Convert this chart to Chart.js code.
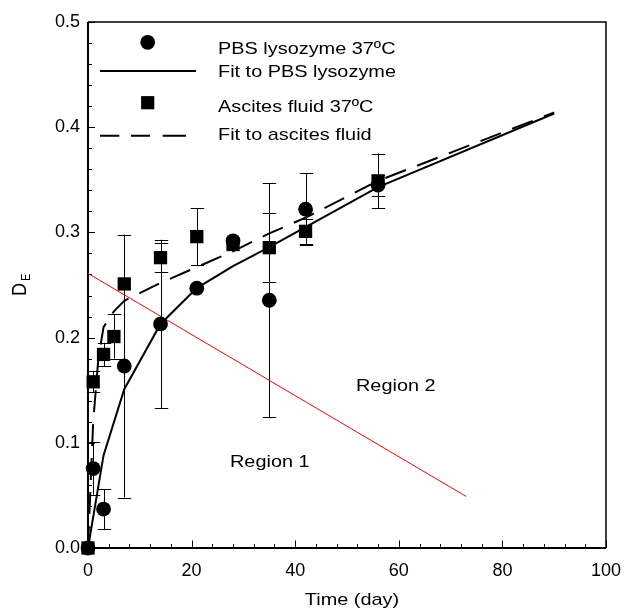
<!DOCTYPE html>
<html><head><meta charset="utf-8">
<script src="https://cdn.jsdelivr.net/npm/chart.js@4.4.0/dist/chart.umd.min.js"></script>
<style>html,body{margin:0;padding:0;background:#fff;}</style>
</head><body>
<canvas id="c" width="633" height="608" style="width:633px;height:608px;display:block"></canvas>
<script>
// ---- data ----
const pbsDays   = [0, 1, 3, 7, 14, 21, 28, 35, 42, 56];
const pbsValues = [0, 0.0755, 0.037, 0.173, 0.213, 0.247, 0.292, 0.2355, 0.322, 0.345];
const pbsErrors = [0, 0.025, 0.019, 0.125, 0.080, 0, 0, 0.111, 0.034, 0.010];

const ascDays   = [0, 1, 3, 5, 7, 14, 21, 28, 35, 42, 56];
const ascValues = [0, 0.158, 0.184, 0.201, 0.251, 0.276, 0.296, 0.2885, 0.2855, 0.301, 0.349];
const ascErrors = [0, 0.010, 0.011, 0.021, 0, 0.014, 0.027, 0, 0.033, 0.012, 0.026];

const fitPbsDays   = [0, 3, 7, 14, 21, 28, 35, 42, 56, 90];
const fitPbsValues = [0, 0.088, 0.151, 0.213, 0.247, 0.268, 0.286, 0.305, 0.343, 0.413];

const fitAscDays   = [0, 0.5, 1, 2, 3, 5, 7, 14, 21, 28, 35, 42, 56, 90];
const fitAscValues = [0, 0.06, 0.12, 0.18, 0.21, 0.225, 0.235, 0.252, 0.267, 0.282, 0.299, 0.314, 0.349, 0.414];

const boundaryDays   = [0, 73];
const boundaryValues = [0.261, 0.049];

const xTicks = [0, 20, 40, 60, 80, 100];
const yTicks = [0.0, 0.1, 0.2, 0.3, 0.4, 0.5];

const legendLabels = ['PBS lysozyme 37ºC', 'Fit to PBS lysozyme', 'Ascites fluid 37ºC', 'Fit to ascites fluid'];
const regionLabels = ['Region 1', 'Region 2'];
const xTitle = 'Time (day)';

const FONT = '"Liberation Sans", Arial, sans-serif';
const SX = 1.17;

const pts = (xs, ys) => xs.map((x, i) => ({x: x, y: ys[i]}));

function sText(ctx, t, x, y, size, align) {
  ctx.save();
  ctx.font = size + 'px ' + FONT;
  ctx.fillStyle = '#000';
  ctx.textBaseline = 'alphabetic';
  ctx.textAlign = align || 'left';
  ctx.translate(x, y);
  ctx.scale(SX, 1);
  ctx.fillText(t, 0, 0);
  ctx.restore();
}

const decor = {
  id: 'decor',
  beforeDatasetsDraw(chart) {
    const ctx = chart.ctx, xs = chart.scales.x, ys = chart.scales.y, a = chart.chartArea;
    ctx.save();
    ctx.strokeStyle = '#000';
    // frame
    ctx.lineWidth = 1.5;
    ctx.beginPath();
    ctx.moveTo(a.left, a.top); ctx.lineTo(a.right, a.top); ctx.lineTo(a.right, a.bottom);
    ctx.stroke();
    ctx.lineWidth = 2;
    ctx.beginPath();
    ctx.moveTo(a.left, a.top); ctx.lineTo(a.left, a.bottom); ctx.lineTo(a.right, a.bottom);
    ctx.stroke();
    // inward ticks
    ctx.lineWidth = 1;
    ctx.beginPath();
    for (let k = 0; k <= 25; k++) {
      const v = k * 0.02;
      const py = Math.round(ys.getPixelForValue(v)) + 0.5;
      const len = (k % 5 === 0) ? 7 : 4;
      ctx.moveTo(a.left, py); ctx.lineTo(a.left + len, py);
    }
    for (let k = 0; k <= 25; k++) {
      const v = k * 4;
      const px = Math.round(xs.getPixelForValue(v)) + 0.5;
      const len = (k % 5 === 0) ? 7.5 : 4;
      ctx.moveTo(px, a.bottom); ctx.lineTo(px, a.bottom - len);
    }
    ctx.stroke();
    // error bars
    const bars = (xsArr, vals, errs) => {
      xsArr.forEach((d, i) => {
        const e = errs[i];
        if (!e) return;
        const px = Math.round(xs.getPixelForValue(d)) + 0.5;
        const top = ys.getPixelForValue(vals[i] + e);
        const bot = ys.getPixelForValue(vals[i] - e);
        ctx.beginPath();
        ctx.moveTo(px, top); ctx.lineTo(px, bot);
        ctx.moveTo(px - 6.7, Math.round(top) + 0.5); ctx.lineTo(px + 6.7, Math.round(top) + 0.5);
        ctx.moveTo(px - 6.7, Math.round(bot) + 0.5); ctx.lineTo(px + 6.7, Math.round(bot) + 0.5);
        ctx.stroke();
      });
    };
    bars(pbsDays, pbsValues, pbsErrors);
    bars(ascDays, ascValues, ascErrors);
    ctx.restore();
  },
  afterDraw(chart) {
    const ctx = chart.ctx;
    ctx.save();
    // legend
    ctx.fillStyle = '#000'; ctx.strokeStyle = '#000';
    ctx.beginPath(); ctx.arc(147.7, 42.3, 7.4, 0, Math.PI * 2); ctx.fill();
    ctx.lineWidth = 2;
    ctx.beginPath(); ctx.moveTo(100, 71); ctx.lineTo(196, 71); ctx.stroke();
    ctx.fillRect(147.7 - 6.6, 102.7 - 6.6, 13.2, 13.2);
    ctx.beginPath();
    [[100, 119.3], [131, 150], [162.7, 186]].forEach(s => { ctx.moveTo(s[0], 135.7); ctx.lineTo(s[1], 135.7); });
    ctx.stroke();
    const bl = [53.9, 76.5, 112.2, 139.9];
    legendLabels.forEach((t, i) => sText(ctx, t, 218, bl[i], 17));
    // region labels
    sText(ctx, regionLabels[0], 230, 467.2, 17);
    sText(ctx, regionLabels[1], 356, 390.5, 17);
    // axis titles
    sText(ctx, xTitle, 352, 605, 17, 'center');
    ctx.save();
    ctx.translate(26, 296);
    ctx.scale(SX, 1);
    ctx.rotate(-Math.PI / 2);
    ctx.fillStyle = '#000';
    ctx.textBaseline = 'alphabetic';
    ctx.font = '18px ' + FONT;
    ctx.fillText('D', 0, 0);
    ctx.font = '11px ' + FONT;
    ctx.fillText('E', 15, 3.5);
    ctx.restore();
    ctx.restore();
  }
};

new Chart(document.getElementById('c'), {
  type: 'scatter',
  data: {
    datasets: [
      {label: legendLabels[0], data: pts(pbsDays, pbsValues), pointStyle: 'circle', pointRadius: 7.4,
       backgroundColor: '#000', borderColor: '#000', borderWidth: 0, order: 0, clip: false},
      {label: legendLabels[2], data: pts(ascDays, ascValues), pointStyle: 'rect', pointRadius: 9.4,
       backgroundColor: '#000', borderColor: '#000', borderWidth: 0, order: 1, clip: false},
      {label: legendLabels[1], data: pts(fitPbsDays, fitPbsValues), showLine: true, pointRadius: 0,
       borderColor: '#000', borderWidth: 2, tension: 0, order: 2, clip: false},
      {label: legendLabels[3], data: pts(fitAscDays, fitAscValues), showLine: true, pointRadius: 0,
       borderColor: '#000', borderWidth: 2, borderDash: [22, 12], tension: 0, order: 3, clip: false},
      {label: 'boundary', data: pts(boundaryDays, boundaryValues), showLine: true, pointRadius: 0,
       borderColor: '#ff0000', borderWidth: 1, order: 4, clip: false}
    ]
  },
  options: {
    responsive: false,
    animation: false,
    events: [],
    layout: {padding: {left: 0, right: 17, top: 22, bottom: 0}},
    plugins: {legend: {display: false}, tooltip: {enabled: false}},
    scales: {
      x: {
        type: 'linear', min: 0, max: 100,
        afterBuildTicks: s => { s.ticks = xTicks.map(v => ({value: v})); },
        afterFit: s => { s.height = 60; },
        ticks: {font: {size: 18, family: FONT}, color: '#000', padding: 12, maxRotation: 0,
                callback: v => String(v)},
        grid: {display: false, drawTicks: false},
        border: {display: false}
      },
      y: {
        type: 'linear', min: 0, max: 0.5,
        afterBuildTicks: s => { s.ticks = yTicks.map(v => ({value: v})); },
        afterFit: s => { s.width = 88; },
        ticks: {font: {size: 18, family: FONT}, color: '#000', padding: 8,
                callback: v => Number(v).toFixed(1)},
        grid: {display: false, drawTicks: false},
        border: {display: false}
      }
    }
  },
  plugins: [decor]
});
</script>
</body></html>
